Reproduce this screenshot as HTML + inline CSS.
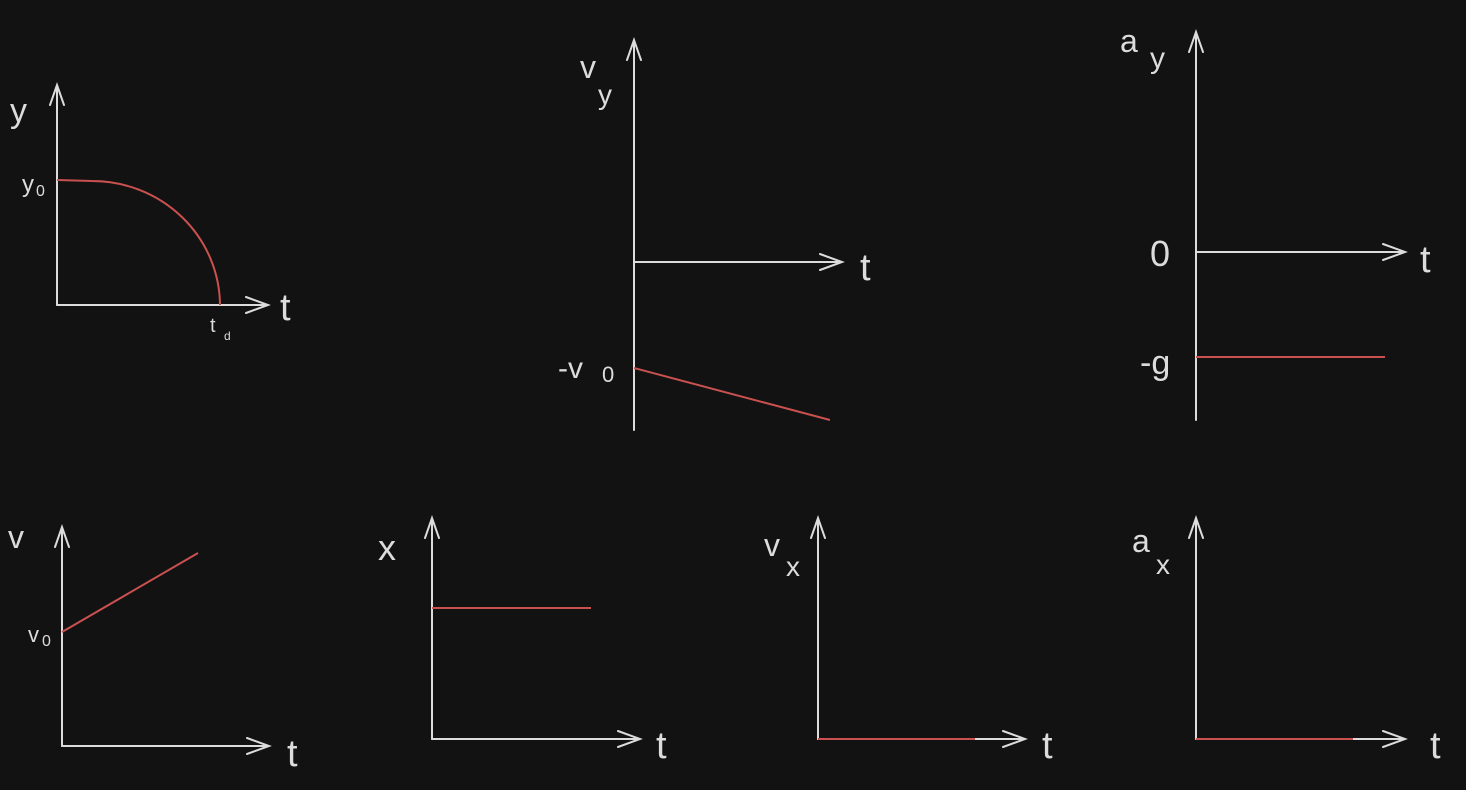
<!DOCTYPE html>
<html><head><meta charset="utf-8"><style>
html,body{margin:0;padding:0;background:#121212;}
svg{display:block}
text{font-family:"Liberation Sans",sans-serif;fill:#dcdcdc;}
</style></head><body>
<svg id="c" width="1466" height="790" viewBox="0 0 1466 790">
<rect width="1466" height="790" fill="#121212"/>
<g id="axes" stroke="#dcdcdc" stroke-width="2" fill="none" stroke-linecap="round"></g>
<g id="series" stroke="#c9514f" stroke-width="2" fill="none"></g>
<g id="labels"></g>
</svg>
<script>
// panels: axis origin x, y-axis bottom, y-axis top, x-axis y, x-axis end
const panelNames=["y-vs-t","vy-vs-t","ay-vs-t","v-vs-t","x-vs-t","vx-vs-t","ax-vs-t"];
const axisX=[57,634,1196,62,432,818,1196];
const axisBottom=[305,430,420,746,739,739,739];
const axisTop=[85,40,32,527,518,518,518];
const xAxisY=[305,262,252,746,739,739,739];
const xAxisEnd=[268,842,1405,269,640,1025,1405];
// linear series endpoints [x1,y1,x2,y2] for panels 1..6
const lineStart=[[634,368],[1196,357],[62,632],[432,608],[818,739],[1196,739]];
const lineEnd=[[830,420],[1385,357],[198,553],[591,608],[975,739],[1353,739]];
const lineNames=["vy-line","ay-line","v-line","x-line","vx-line","ax-line"];
const labels=[
 ["y",10,122,34],["y",22,192,24],["0",36,196,16],["t",280,320,38],["t",210,332,20],["d",224,340,12],
 ["v",580,78,32],["y",598,104,28],["t",860,280,38],["-v",558,378,30],["0",602,382,22],
 ["a",1120,52,32],["y",1150,68,30],["0",1150,266,36],["t",1420,272,38],["-g",1140,374,34],
 ["v",8,548,32],["v",28,642,22],["0",42,646,16],["t",287,766,38],
 ["x",378,560,36],["t",656,758,38],
 ["v",764,556,32],["x",786,576,28],["t",1042,758,38],
 ["a",1132,552,32],["x",1156,574,28],["t",1430,758,38]
];
const ns="http://www.w3.org/2000/svg";
const ax=document.getElementById('axes'),se=document.getElementById('series'),lb=document.getElementById('labels');
function mk(tag,attrs,parent){const e=document.createElementNS(ns,tag);for(const k in attrs)e.setAttribute(k,attrs[k]);parent.appendChild(e);return e;}
for(let i=0;i<axisX.length;i++){
 const x=axisX[i],yb=axisBottom[i],yt=axisTop[i],xy=xAxisY[i],xe=xAxisEnd[i];
 const y=mk('path',{d:`M${x} ${yb}L${x} ${yt}M${x-7} ${yt+20}L${x} ${yt}L${x+7} ${yt+20}`},ax);
 
 
 const h=mk('path',{d:`M${x} ${xy}L${xe} ${xy}M${xe-22} ${xy-8}L${xe} ${xy}L${xe-22} ${xy+8}`},ax);
 
 
}
const curve=mk('path',{d:'M57 180L92 181A128 125 0 0 1 220 305'},se);


for(let i=0;i<lineStart.length;i++){
 const l=mk('line',{x1:lineStart[i][0],y1:lineStart[i][1],x2:lineEnd[i][0],y2:lineEnd[i][1]},se);
 
 
}
for(const [t,x,y,s] of labels){
 const e=mk('text',{x:x,y:y,'font-size':s},lb);e.textContent=t;
 
 
}
</script>
</body></html>
